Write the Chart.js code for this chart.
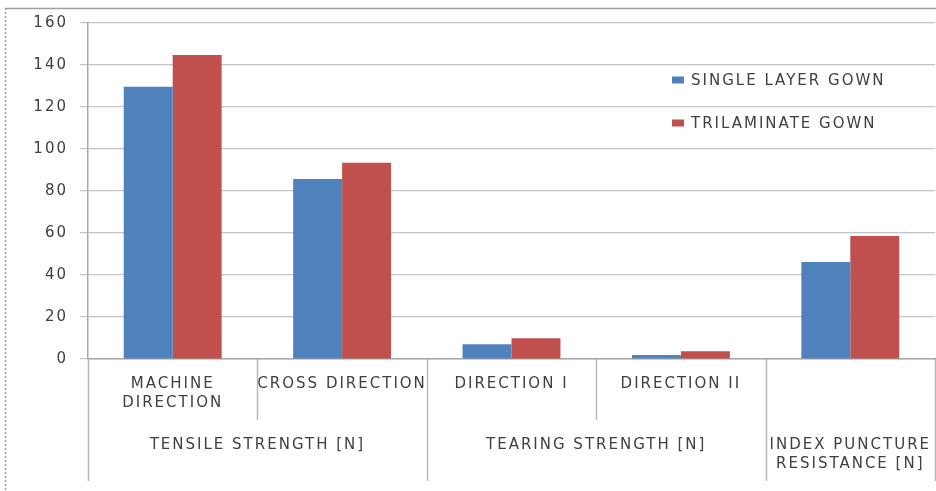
<!DOCTYPE html>
<html><head><meta charset="utf-8">
<script src="https://cdn.jsdelivr.net/npm/chart.js@4/dist/chart.umd.min.js"></script>
<style>html,body{margin:0;padding:0;background:#fff;overflow:hidden}#wrap{position:relative;width:936px;height:491px}</style>
</head><body><div id="wrap"><canvas id="c" width="936" height="491"></canvas></div>
<script>
const categories = [['MACHINE', 'DIRECTION'], 'CROSS DIRECTION', 'DIRECTION I', 'DIRECTION II', ''];
const groupLabels = ['TENSILE STRENGTH [N]', 'TEARING STRENGTH [N]', ['INDEX PUNCTURE', 'RESISTANCE [N]']];
const groupSpans = [2, 2, 1];
const seriesNames = ['SINGLE LAYER GOWN', 'TRILAMINATE GOWN'];
const singleLayer = [129.7, 85.7, 7, 1.9, 46.2];
const trilaminate = [144.8, 93.5, 9.9, 3.7, 58.6];
const yMin = 0, yMax = 160, yStep = 20;

const groupCenters = [];
const groupBounds = [0];
{ let s = 0; groupSpans.forEach(n => { groupCenters.push(s + (n - 1) / 2); s += n; groupBounds.push(s); }); }

const FONT = "'DejaVu Sans', sans-serif";
const TEXT = '#404040';
const LS = '2px';

const spacingPlugin = {
  id: 'spacing',
  beforeUpdate(c) { c.ctx.letterSpacing = LS; },
  beforeLayout(c) { c.ctx.letterSpacing = LS; },
  beforeDraw(c) {
    c.ctx.letterSpacing = LS;
    const ctx = c.ctx;
    ctx.save();
    ctx.strokeStyle = '#a0a0a0';
    ctx.lineWidth = 1.5;
    ctx.beginPath(); ctx.moveTo(5, 8.5); ctx.lineTo(936, 8.5); ctx.stroke();
    ctx.setLineDash([2, 2]);
    ctx.beginPath(); ctx.moveTo(5.5, 8); ctx.lineTo(5.5, 491); ctx.stroke();
    ctx.restore();
  },
  afterDraw(c) {
    const ctx = c.ctx;
    const xs = c.scales.x;
    const top = c.chartArea.bottom;
    ctx.save();
    ctx.strokeStyle = '#b8b8b8';
    ctx.lineWidth = 1.5;
    for (let i = 0; i <= categories.length; i++) {
      const px = Math.round(xs.getPixelForValue(i - 0.5)) + 0.5;
      const long = groupBounds.includes(i);
      ctx.beginPath(); ctx.moveTo(px, top); ctx.lineTo(px, long ? 481 : 420); ctx.stroke();
    }
    // legend
    ctx.font = '15px ' + FONT;
    ctx.letterSpacing = LS;
    ctx.textBaseline = 'middle';
    ctx.textAlign = 'left';
    const lx = c.chartArea.right - 263;
    c.data.datasets.forEach((ds, i) => {
      const cy = 80 + i * 43;
      ctx.fillStyle = ds.backgroundColor;
      ctx.fillRect(lx, cy - 3.5, 12, 7);
      ctx.fillStyle = TEXT;
      ctx.fillText(ds.label, lx + 19, cy + 1);
    });
    ctx.restore();
  }
};

new Chart(document.getElementById('c'), {
  type: 'bar',
  data: {
    labels: categories,
    datasets: [
      { label: seriesNames[0], data: singleLayer, backgroundColor: '#4F81BD' },
      { label: seriesNames[1], data: trilaminate, backgroundColor: '#C0504D' }
    ]
  },
  options: {
    responsive: false,
    animation: false,
    events: [],
    datasets: { bar: { categoryPercentage: 0.578, barPercentage: 1 } },
    layout: { padding: { top: 23, right: 1, bottom: 0, left: 0 } },
    plugins: { legend: { display: false }, tooltip: { enabled: false } },
    scales: {
      x: {
        type: 'category',
        position: 'bottom',
        grid: { display: false, drawTicks: false },
        border: { display: true, color: '#a8a8a8', width: 1.5 },
        ticks: { font: { family: FONT, size: 15, lineHeight: 1.25 }, color: TEXT, maxRotation: 0, minRotation: 0, autoSkip: false, padding: 16 },
        afterFit(s) { s.height = 55; s.paddingLeft = 0; s.paddingRight = 0; }
      },
      x2: {
        type: 'linear',
        position: 'bottom',
        offset: false,
        min: -0.5, max: categories.length - 0.5,
        grid: { display: false, drawTicks: false, offset: false },
        border: { display: false },
        afterBuildTicks(s) { s.ticks = groupCenters.map(v => ({ value: v })); },
        ticks: {
          font: { family: FONT, size: 15, lineHeight: 1.25 }, color: TEXT, maxRotation: 0, minRotation: 0, autoSkip: false, padding: 22,
          callback: (v, i) => groupLabels[i]
        },
        afterFit(s) { s.height = 77; s.paddingLeft = 0; s.paddingRight = 0; }
      },
      y: {
        min: yMin, max: yMax,
        ticks: { stepSize: yStep, font: { family: FONT, size: 15 }, color: TEXT, padding: 12 },
        grid: { color: '#c4c4c4', lineWidth: 1.2, tickLength: 8 },
        border: { color: '#a8a8a8', width: 1.5 },
        afterFit(s) { s.width = 88; s.paddingTop = 0; s.paddingBottom = 0; }
      }
    }
  },
  plugins: [spacingPlugin]
});
</script></body></html>
